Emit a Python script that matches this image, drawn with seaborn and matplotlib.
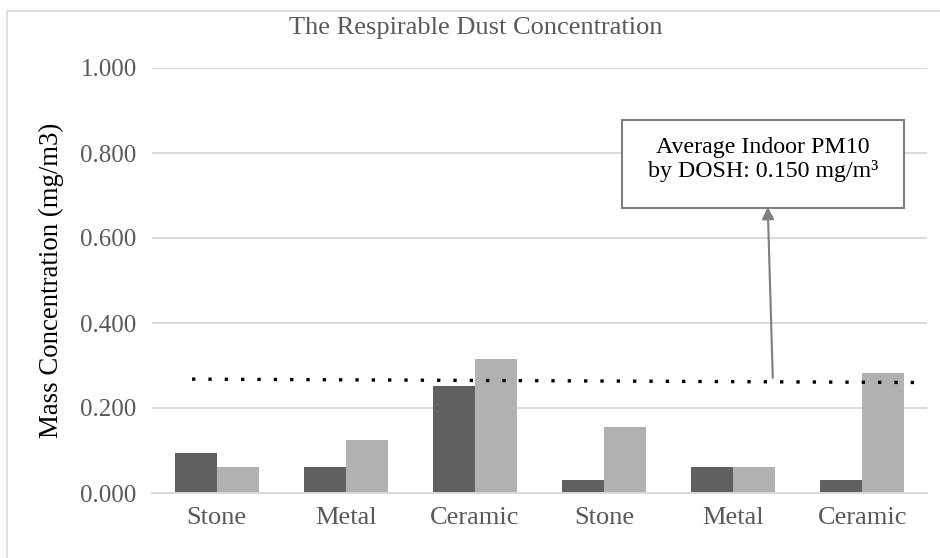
import matplotlib
matplotlib.use("Agg")
import matplotlib.pyplot as plt
from matplotlib.patches import Rectangle
from matplotlib.lines import Line2D
import pandas as pd
import seaborn as sns

# Sampling sites along the x axis (two rounds of the same three materials)
categories = ["Stone", "Metal", "Ceramic", "Stone", "Metal", "Ceramic"]
series_dark = [0.094, 0.061, 0.252, 0.031, 0.061, 0.031]
series_light = [0.061, 0.125, 0.315, 0.156, 0.061, 0.283]
y_ticks = [0.0, 0.2, 0.4, 0.6, 0.8, 1.0]

# Dotted reference line (start / end in data coordinates)
guide_x = [-0.19, 5.41]
guide_y = [0.268, 0.260]
note_text = "Average Indoor PM10\nby DOSH: 0.150 mg/m\u00b3"

sns.set_theme(style="white")
plt.rcParams["font.family"] = ["Liberation Serif", "DejaVu Serif"]

slots = [str(i) for i in range(len(categories))]
df = pd.DataFrame({
    "slot": slots * 2,
    "value": series_dark + series_light,
    "series": ["dark"] * len(slots) + ["light"] * len(slots),
})

W, H = 940, 558
fig = plt.figure(figsize=(W / 100, H / 100), dpi=100)
fig.patch.set_facecolor("white")
ax = fig.add_axes([152 / W, 1 - 493 / H, (927 - 152) / W, 425 / H])

sns.barplot(data=df, x="slot", y="value", hue="series", order=slots,
            hue_order=["dark", "light"], palette=["#606060", "#b1b1b1"],
            width=0.65, saturation=1, legend=False, ax=ax,
            edgecolor="none", linewidth=0, zorder=2)

ax.set_xlim(-0.5, len(slots) - 0.5)
ax.set_ylim(0, 1.0)
ax.set_yticks(y_ticks)
ax.set_yticklabels([f"{v:.3f}" for v in y_ticks])
ax.set_xticks(range(len(slots)))
ax.set_xticklabels(categories)
ax.set_xlabel("")
ax.set_ylabel("")
ax.yaxis.grid(True, color="#d9d9d9", linewidth=1.4, zorder=0)
ax.set_axisbelow(True)
for side in ["top", "right", "left"]:
    ax.spines[side].set_visible(False)
ax.spines["bottom"].set_color("#d9d9d9")
ax.spines["bottom"].set_linewidth(1.4)
ax.tick_params(axis="y", length=0, pad=11, labelsize=18, labelcolor="#595959")
ax.tick_params(axis="x", length=0, pad=10, labelsize=19, labelcolor="#595959")

# Dotted reference line
ax.plot(guide_x, guide_y, color="black", linewidth=2.4,
        linestyle=(0, (1, 3.9)), dash_capstyle="butt", zorder=4)

# Callout box with arrow
ax.annotate("", xy=(4.267, 0.673), xytext=(4.306, 0.2706),
            arrowprops=dict(arrowstyle="-|>", color="#7f7f7f", lw=1.5,
                            mutation_scale=18, shrinkA=0, shrinkB=0),
            zorder=5)
ax.add_patch(Rectangle((3.136, 0.671), 2.184, 0.207, facecolor="white",
                       edgecolor="#7f7f7f", linewidth=1.5, zorder=6))
ax.text(4.23, 0.785, note_text, ha="center", va="center", fontsize=17.2,
        color="black", linespacing=1.15, zorder=7)

# Titles
fig.text(475.5 / W, 1 - 28 / H, "The Respirable Dust Concentration",
         ha="center", va="center", fontsize=19, color="#595959")
fig.text(51 / W, 1 - 280.5 / H, "Mass Concentration (mg/m3)",
         ha="center", va="center", rotation=90, fontsize=19.3, color="black")

# Chart frame
fig.add_artist(Line2D([7 / W, 1], [1 - 11 / H, 1 - 11 / H],
                      transform=fig.transFigure, color="#d9d9d9", lw=1.2))
fig.add_artist(Line2D([7 / W, 7 / W], [0, 1 - 11 / H],
                      transform=fig.transFigure, color="#d9d9d9", lw=1.2))

fig.savefig("out.png", dpi=100, facecolor="white")
